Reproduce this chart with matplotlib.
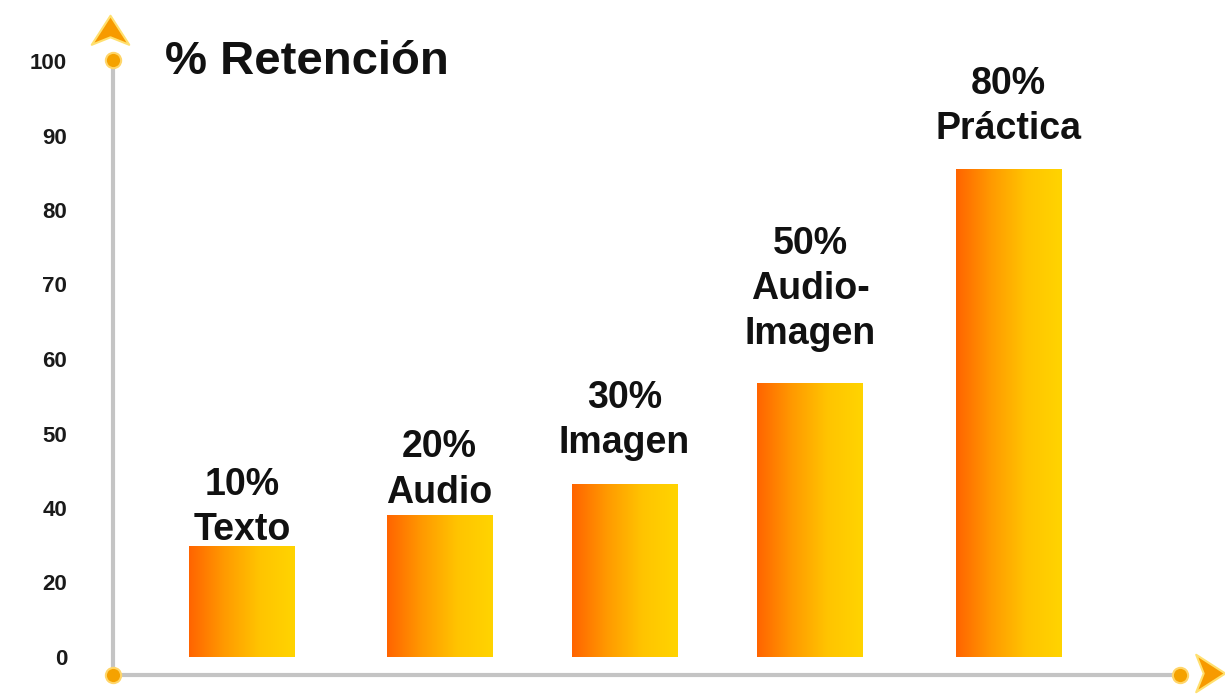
import matplotlib
matplotlib.use("Agg")
import matplotlib.pyplot as plt
import numpy as np
from matplotlib.colors import LinearSegmentedColormap
from matplotlib.path import Path

# ---- data ----
categories = ['10%\nTexto', '20%\nAudio', '30%\nImagen', '50%\nAudio-\nImagen', '80%\nPráctica']
# bar heights measured in tick-slot units (ticks are evenly spaced, labelled below)
values = [1.49, 1.91, 2.32, 3.68, 6.55]
ytick_labels = ['0', '20', '40', '50', '60', '70', '80', '90', '100']
title = '% Retención'

# ---- style / layout ----
bar_pos = [0, 1.03, 1.997, 2.966, 4.003]
label_offsets_pt = [-1.5, 3, 16.5, 22, 16]

plt.rcParams['font.family'] = ['Liberation Sans', 'DejaVu Sans']

W, H = 1225, 696
fig = plt.figure(figsize=(W / 100, H / 100), dpi=100)
fig.patch.set_facecolor('white')

ax_left, ax_bottom_px, ax_top_px = 113, 675, 30
ax = fig.add_axes([ax_left / W, (H - ax_bottom_px) / H, (W - ax_left) / W,
                   (ax_bottom_px - ax_top_px) / H])
ax.set_facecolor('none')

slot = 74.5
zero_px = 657
spacing = 191.5
c0 = 242

for s in ax.spines.values():
    s.set_visible(False)

width = 0.55
cmap = LinearSegmentedColormap.from_list('og', ['#ff6400', '#ff9a00', '#ffc400', '#ffd400'])
grad = np.linspace(0, 1, 256).reshape(1, -1)

bars = ax.bar(bar_pos, values, width=width, color='none', edgecolor='none')
for b in bars:
    x0, y0 = b.get_x(), b.get_y()
    w, h = b.get_width(), b.get_height()
    im = ax.imshow(grad, cmap=cmap, aspect='auto', extent=[x0, x0 + w, y0, y0 + h],
                   zorder=2, interpolation='bicubic')
    im.set_clip_path(b)

ax.set_xlim((ax_left - c0) / spacing, (W - c0) / spacing)
ax.set_ylim((zero_px - ax_bottom_px) / slot, (zero_px - ax_top_px) / slot)

for xi, v, lab, off in zip(bar_pos, values, categories, label_offsets_pt):
    ax.annotate(lab, (xi, v), xytext=(0, off), textcoords='offset points',
                ha='center', va='bottom', fontsize=27, fontweight='bold',
                color='#111111', linespacing=1.33, zorder=3)

ax.set_yticks(np.arange(len(ytick_labels)))
ax.set_yticklabels(ytick_labels, fontsize=16, fontweight='bold', color='#1a1a1a')
ax.tick_params(axis='y', length=0, pad=33)
ax.set_xticks([])

# axis lines
axis_col = '#c4c4c4'
hspan = ax_bottom_px - ax_top_px
wspan = W - ax_left
top_frac = (ax_bottom_px - 60) / hspan
right_frac = (1180 - ax_left) / wspan
arrow_frac = (1206 - ax_left) / wspan
ax.plot([0, 0], [0, top_frac], transform=ax.transAxes, color=axis_col, lw=3,
        clip_on=False, zorder=1, solid_capstyle='butt')
ax.plot([0, right_frac], [0, 0], transform=ax.transAxes, color=axis_col, lw=3,
        clip_on=False, zorder=1, solid_capstyle='butt')

dot_kw = dict(marker='o', markersize=11, markerfacecolor='#f5a200',
              markeredgecolor='#ffd66a', markeredgewidth=1.5, clip_on=False,
              transform=ax.transAxes, zorder=4, linestyle='none')
ax.plot([0, 0, right_frac], [0, top_frac, 0], **dot_kw)

chev_up = Path([(0, 1), (1, -0.55), (0, -0.15), (-1, -0.55), (0, 1)],
               [Path.MOVETO, Path.LINETO, Path.LINETO, Path.LINETO, Path.CLOSEPOLY])
chev_right = Path([(1, 0), (-0.55, 1), (-0.15, 0), (-0.55, -1), (1, 0)],
                  [Path.MOVETO, Path.LINETO, Path.LINETO, Path.LINETO, Path.CLOSEPOLY])
arrow_kw = dict(markersize=27, markerfacecolor='#f79a00', markeredgecolor='#ffe070',
                markeredgewidth=1.5, clip_on=False, transform=ax.transAxes,
                zorder=4, linestyle='none')
top_arrow = (ax_bottom_px - 34) / hspan
ax.plot([-0.003], [top_arrow], marker=chev_up, **arrow_kw)
ax.plot([arrow_frac], [0.003], marker=chev_right, **arrow_kw)

ax.text((165 - ax_left) / wspan, (ax_bottom_px - 74) / hspan,
        title, transform=ax.transAxes, fontsize=34, fontweight='bold',
        color='#111111', ha='left', va='baseline')

fig.savefig('out.png', dpi=100, facecolor='white')
